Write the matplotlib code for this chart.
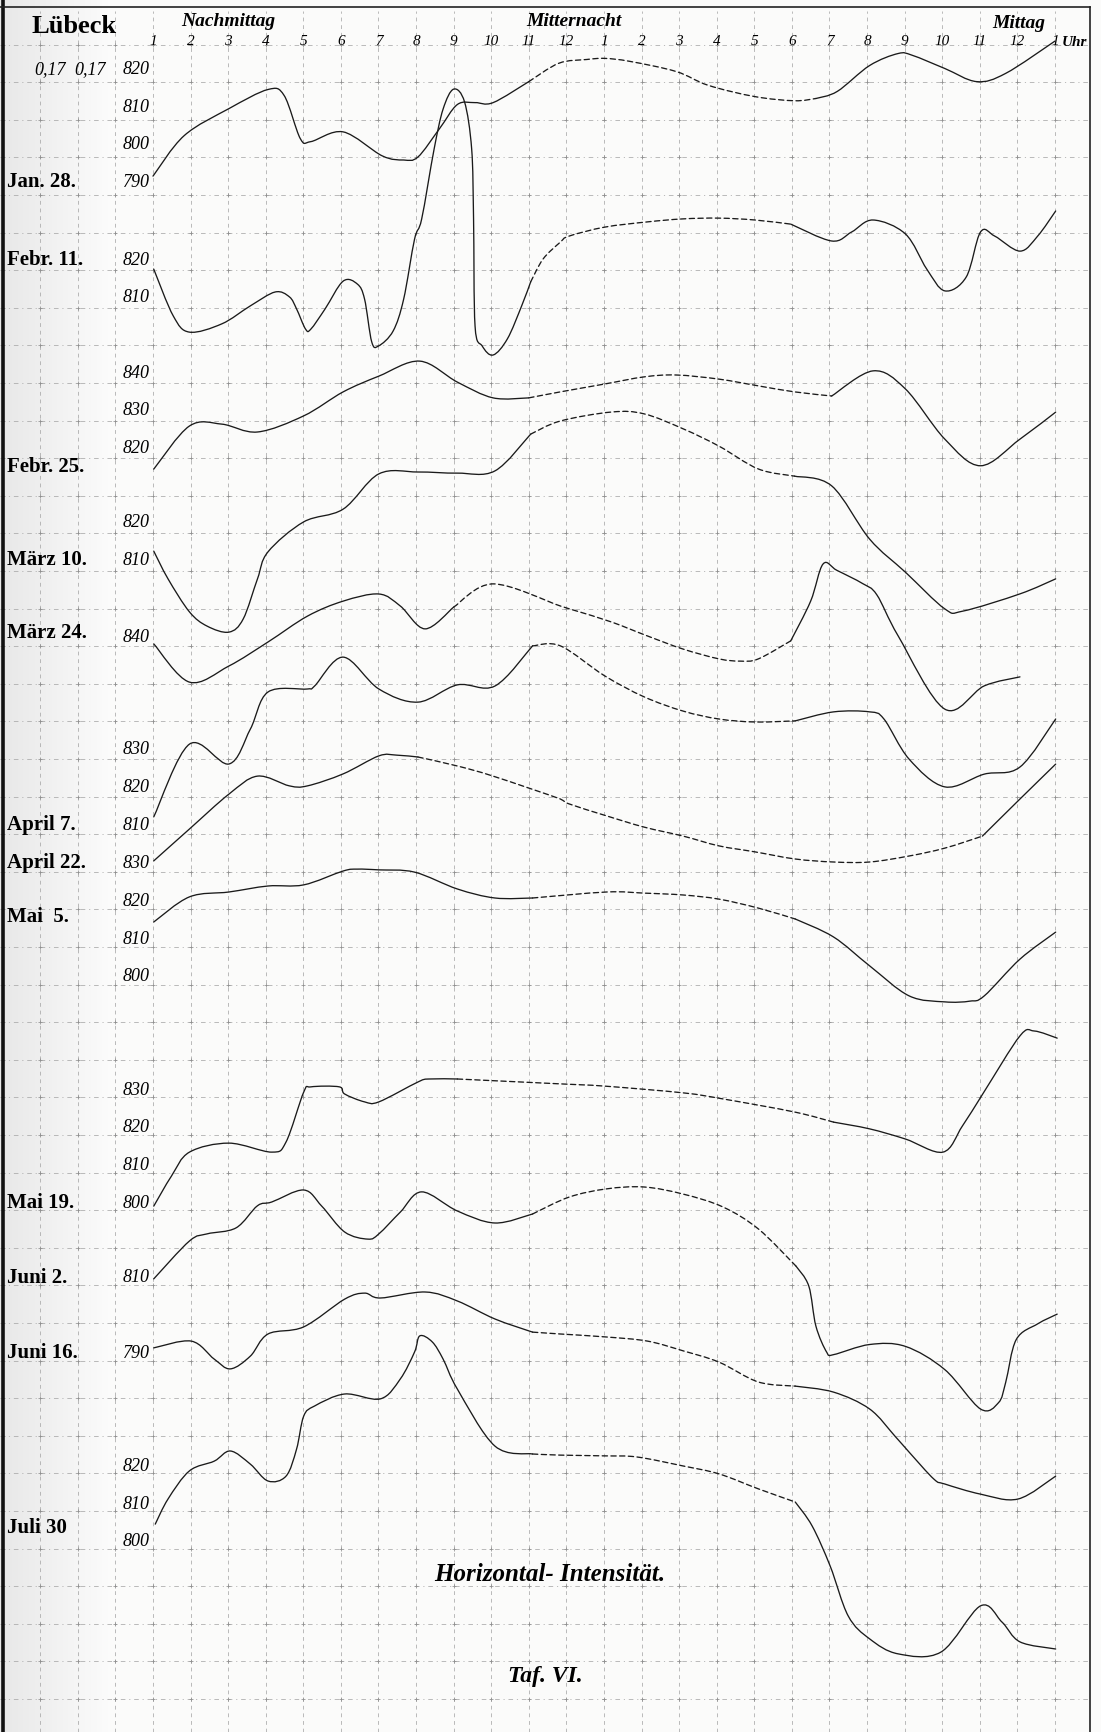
import numpy as np
import matplotlib.pyplot as plt
from matplotlib.path import Path
from matplotlib.patches import PathPatch

plt.rcParams['font.family'] = ['Liberation Serif', 'DejaVu Serif']

# --- data: hours counted from 1 Uhr nachmittags (0) to 1 Uhr mittags (24) ---
hour_labels = [str(i) for i in range(1, 13)] + [str(i) for i in range(1, 13)] + ['1']

dates = ['Jan. 28.', 'Febr. 11.', 'Febr. 25.', 'März 10.', 'März 24.', 'April 7.',
         'April 22.', 'Mai  5.', 'Mai 19.', 'Juni 2.', 'Juni 16.', 'Juli 30']

h_jan28 = [0.0, 0.83, 2.02, 3.06, 3.49, 3.92, 4.2, 5.06, 6.1, 6.67, 7.05, 7.62, 8.1, 8.57,
           9.05, 10.0, 10.8, 11.54, 12.02, 12.69, 13.92, 14.78, 16.02, 17.07, 17.64, 18.21,
           19.07, 19.83, 20.21, 21.07, 21.92, 22.69, 24.0]
v_jan28 = [791.3, 802.1, 809.3, 814.4, 812.8, 801.3, 800.5, 803.1, 796.7, 795.6, 796.4, 803.9,
           810.4, 810.9, 810.9, 816.5, 821.4, 822.4, 822.7, 821.9, 819.2, 815.5, 812.5, 811.4,
           812.0, 813.9, 820.8, 824.0, 823.5, 820.0, 816.5, 818.7, 827.3]

h_feb11 = [0.02, 0.54, 0.97, 1.83, 2.59, 3.25, 3.63, 3.82, 4.06, 4.2, 4.58, 5.06, 5.44, 5.63,
           5.82, 6.0, 6.39, 6.67, 6.96, 7.15, 7.48, 7.72, 8.0, 8.29, 8.48, 8.53, 8.57, 8.76,
           9.05, 9.43, 9.81, 10.05, 10.38, 10.84, 11.07, 12.02, 13.16, 14.11, 15.06, 16.02,
           16.97, 18.06, 18.59, 19.16, 20.02, 20.59, 21.07, 21.64, 22.02, 22.4, 23.07, 23.54, 24.02]
v_feb11 = [817.3, 804.8, 800.5, 802.7, 807.5, 811.2, 809.9, 806.7, 801.3, 801.3, 806.7, 814.1,
           813.3, 809.3, 797.9, 796.8, 800.8, 809.3, 825.3, 830.7, 849.3, 860.0, 865.3, 861.9,
           849.3, 830.7, 802.1, 796.8, 794.4, 798.7, 807.5, 813.9, 820.0, 824.5, 826.1, 828.5,
           829.9, 830.7, 830.9, 830.4, 829.3, 824.8, 827.2, 830.4, 826.7, 817.3, 811.5, 815.2,
           827.2, 826.1, 822.1, 826.1, 832.8]

h_feb25 = [0.02, 0.97, 1.83, 2.78, 4.01, 5.06, 6.01, 7.1, 8.1, 9.05, 10.0, 10.84, 12.02, 13.07,
           13.92, 15.06, 16.11, 17.07, 18.06, 19.16, 20.02, 21.07, 22.02, 23.07, 24.02]
v_feb25 = [814.1, 825.6, 826.1, 824.0, 828.3, 834.7, 838.9, 842.9, 837.3, 833.1, 833.1, 834.7,
           836.8, 838.7, 839.2, 838.1, 836.3, 834.7, 833.6, 840.3, 835.5, 822.1, 815.0, 822.1, 829.3]

h_mar10 = [0.02, 0.4, 0.97, 1.44, 2.02, 2.4, 2.78, 3.06, 4.01, 5.06, 6.01, 7.05, 8.1, 9.1, 10.05,
           10.84, 12.21, 13.07, 14.11, 15.06, 16.11, 17.07, 18.06, 19.07, 20.02, 21.07, 21.55,
           23.07, 24.02]
v_mar10 = [812.1, 804.7, 795.9, 792.1, 790.5, 794.0, 804.7, 811.9, 819.9, 823.3, 832.7, 833.2,
           832.9, 833.5, 843.3, 846.8, 849.2, 848.7, 844.7, 840.1, 834.0, 832.1, 829.5, 815.3,
           806.5, 796.7, 796.1, 800.7, 804.7]

h_mar24 = [0.02, 0.97, 2.02, 3.06, 4.11, 5.06, 6.01, 6.58, 7.24, 8.0, 9.05, 10.84, 11.26, 12.21,
           13.16, 14.11, 15.06, 15.63, 16.11, 16.97, 17.5, 17.83, 18.2, 18.88, 19.26, 19.83,
           21.07, 22.12, 23.07]
v_mar24 = [837.9, 827.7, 832.0, 838.4, 845.3, 849.3, 851.2, 848.0, 841.9, 847.7, 853.9, 848.0,
           846.7, 843.7, 840.0, 836.5, 833.9, 833.3, 833.9, 838.7, 849.3, 859.2, 857.5, 854.0,
           851.0, 840.0, 820.5, 826.7, 829.1]

h_apr07 = [0.02, 0.97, 2.02, 2.59, 3.06, 4.11, 4.3, 5.06, 6.01, 7.05, 8.1, 9.1, 10.1, 10.84,
           12.02, 13.07, 14.11, 15.06, 16.02, 17.09, 18.11, 19.07, 19.45, 20.12, 21.07, 22.12,
           23.07, 24.02]
v_apr07 = [811.9, 831.3, 826.0, 835.3, 845.2, 846.0, 846.8, 854.5, 846.0, 842.5, 847.1, 846.8,
           857.5, 857.5, 849.5, 843.9, 840.1, 838.0, 837.2, 837.5, 839.9, 839.9, 838.0, 827.3,
           819.9, 823.3, 825.2, 838.0]

h_apr22 = [0.02, 0.97, 2.02, 2.78, 3.63, 4.11, 5.06, 6.01, 6.48, 7.05, 8.1, 9.05, 10.84, 11.07,
           12.07, 13.07, 14.11, 15.06, 16.02, 17.09, 18.11, 19.07, 20.12, 21.07, 22.07, 23.07, 24.02]
v_apr22 = [830.3, 838.8, 848.1, 852.9, 850.3, 850.3, 853.5, 858.3, 858.5, 858.0, 855.6, 852.9,
           846.8, 845.5, 842.3, 839.3, 836.9, 834.3, 832.7, 830.8, 830.0, 830.0, 831.6, 833.7,
           836.9, 846.8, 856.1]

h_mai05 = [0.02, 0.97, 2.02, 3.06, 4.01, 5.06, 5.44, 6.01, 6.96, 8.1, 9.1, 10.1, 12.07, 13.07,
           14.11, 15.06, 16.11, 17.09, 18.11, 19.07, 20.12, 21.07, 21.74, 22.12, 23.07, 24.02]
v_mai05 = [814.4, 821.1, 822.4, 824.0, 824.3, 828.0, 828.5, 828.3, 827.7, 823.2, 820.8, 820.8,
           822.4, 822.1, 821.6, 820.5, 818.1, 815.2, 810.4, 802.7, 794.7, 793.1, 793.3, 794.7,
           804.5, 811.7]

h_mai19 = [0.02, 0.49, 0.97, 2.02, 3.16, 3.54, 4.01, 4.2, 4.96, 5.1, 5.63, 6.01, 7.05, 7.34, 8.1,
           10.84, 12.02, 14.11, 15.16, 17.07, 18.11, 19.07, 20.02, 21.02, 21.54, 22.11, 23.07,
           23.45, 24.06]
v_mai19 = [798.9, 806.9, 813.3, 815.7, 813.3, 816.0, 829.3, 830.7, 830.7, 828.8, 826.7, 826.7,
           832.0, 832.8, 832.8, 831.5, 830.9, 829.1, 827.5, 824.0, 821.3, 819.5, 816.8, 813.3,
           820.3, 829.3, 844.3, 845.6, 843.7]

h_jun02 = [0.02, 0.97, 1.44, 2.21, 2.78, 3.16, 4.01, 4.49, 5.1, 5.72, 6.01, 6.58, 7.15, 8.1, 9.1,
           10.1, 11.07, 12.07, 13.07, 14.11, 15.16, 16.11, 17.11, 17.45, 17.64, 17.93, 18.11,
           19.07, 20.02, 21.07, 22.02, 22.5, 22.69, 22.97, 23.54, 24.06]
v_jun02 = [809.5, 819.6, 821.5, 823.1, 829.0, 830.0, 833.2, 828.9, 822.0, 820.1, 821.5, 827.3,
           832.7, 827.6, 824.4, 826.8, 831.3, 833.5, 834.0, 832.1, 828.7, 822.8, 812.9, 807.6,
           796.9, 789.9, 789.3, 792.0, 791.5, 785.3, 774.8, 776.5, 781.9, 793.3, 797.5, 800.1]

h_jun16 = [0.02, 1.02, 1.63, 2.06, 2.59, 3.06, 4.01, 5.1, 5.63, 6.05, 7.24, 8.1, 9.1, 10.1, 10.84,
           12.07, 13.16, 14.11, 15.06, 16.11, 17.09, 18.11, 19.07, 19.74, 20.12, 20.78, 21.07,
           22.02, 23.02, 24.02]
v_jun16 = [791.1, 792.9, 788.1, 785.5, 788.9, 794.8, 796.7, 804.1, 805.7, 804.4, 806.0, 803.6,
           798.8, 795.3, 794.8, 794.0, 792.9, 790.3, 787.3, 782.0, 780.9, 779.3, 774.8, 767.6,
           763.3, 756.1, 754.8, 752.1, 750.8, 756.9]

h_jul30 = [0.06, 0.4, 0.97, 1.63, 2.06, 2.59, 3.06, 3.54, 3.82, 4.01, 4.3, 5.1, 6.05, 6.58, 6.96,
           7.1, 7.43, 7.72, 8.1, 9.1, 10.1, 10.84, 12.02, 12.88, 14.11, 15.06, 16.11, 17.09,
           17.54, 18.02, 18.5, 19.07, 19.83, 20.97, 22.02, 22.59, 23.07, 24.02]
v_jul30 = [804.5, 811.2, 818.7, 821.3, 824.0, 820.5, 816.0, 817.3, 824.5, 833.3, 836.0, 839.2,
           837.9, 843.2, 850.4, 854.7, 853.1, 848.5, 840.5, 825.3, 823.2, 822.9, 822.7, 822.4,
           820.0, 817.9, 813.9, 810.4, 804.0, 793.3, 780.0, 773.9, 769.9, 770.4, 782.7, 778.4,
           773.1, 771.2]

# scale values written beside each curve
scale_labels = [[820, 810, 800, 790], [820, 810], [840, 830, 820], [820, 810], [840],
                [830, 820, 810], [830], [820, 810, 800], [830, 820, 810, 800], [810], [790],
                [820, 810, 800]]
ref_value = [790, 820, 840, 810, 840, 810, 830, 820, 800, 810, 790, 800]

# --- layout (pixels of the sheet) ---
W, H = 1101, 1733
X0, DX = 153.0, 37.58      # x of 1 Uhr nachm., px per hour
PX = 3.75                  # px per gamma
anchor_px = [182, 260, 373, 560, 637, 825, 863, 902, 1203, 1278, 1353, 1542]
date_dy = [0, 0, 94, 0, -4, 0, 0, 15, 0, 0, 0, -14]
night = [(10.0, 17.64), (10.05, 16.97), (10.0, 18.06), (10.05, 17.07), (8.0, 16.97),
         (10.1, 17.09), (7.05, 22.07), (10.1, 17.09), (8.1, 18.11), (10.1, 17.11),
         (10.1, 17.09), (10.1, 17.09)]

curves_h = [h_jan28, h_feb11, h_feb25, h_mar10, h_mar24, h_apr07, h_apr22, h_mai05,
            h_mai19, h_jun02, h_jun16, h_jul30]
curves_v = [v_jan28, v_feb11, v_feb25, v_mar10, v_mar24, v_apr07, v_apr22, v_mai05,
            v_mai19, v_jun02, v_jun16, v_jul30]


def hx(p):
    return (p - X0) / DX


def vy(p):
    return -p / PX


def smooth_path(x, y):
    # bezier through the read points (catmull-rom tangents), drawn as one path
    p = np.column_stack([x, y])
    n = len(p)
    verts, codes = [p[0]], [Path.MOVETO]
    for i in range(n - 1):
        a = p[i - 1] if i > 0 else p[i]
        d = p[i + 2] if i + 2 < n else p[i + 1]
        c1 = p[i] + (p[i + 1] - a) / 6.0
        c2 = p[i + 1] - (d - p[i]) / 6.0
        lo, hi = p[i, 0], p[i + 1, 0]
        c1[0] = np.clip(c1[0], lo, hi)
        c2[0] = np.clip(c2[0], lo, hi)
        verts += [c1, c2, p[i + 1]]
        codes += [Path.CURVE4] * 3
    return Path(verts, codes)


fig = plt.figure(figsize=(W / 100, H / 100), dpi=100)
fig.patch.set_facecolor('#fbfbfa')
ax = fig.add_axes([0, 0, 1, 1])
ax.set_axis_off()
ax.set_xlim(hx(0), hx(W))
ax.set_ylim(vy(H), 0)

# faint scan shading along the left edge
shade = np.linspace(0.91, 0.985, 60)[None, :] * np.ones((2, 1))
ax.imshow(np.dstack([shade] * 3), extent=(hx(0), hx(110), vy(H), 0), aspect='auto',
          interpolation='bilinear', zorder=0)

# grid of the sheet
grid_c = '#a8a8a8'
rows = vy(45.5 + 37.6 * np.arange(45))
cols = np.arange(-4, 25)
ax.hlines(rows, hx(0), hx(1090), colors=grid_c, lw=0.55, linestyles=[(0, (6, 5, 1.5, 5))],
          zorder=1)
ax.vlines(cols[1:], vy(H), vy(12), colors=grid_c, lw=0.55, linestyles=[(0, (5, 5))], zorder=1)
gx, gy = np.meshgrid(cols, rows)
ax.scatter(gx.ravel(), gy.ravel(), marker='+', s=12, c='#8f8f8f', linewidths=0.55, zorder=1)

# frame
ax.plot([hx(3), hx(3)], [0, vy(H)], color='#111', lw=2.6)
ax.plot([hx(0), hx(1090)], [vy(8), vy(8)], color='#222', lw=1.2)
ax.plot([hx(1090), hx(1090)], [vy(8), vy(H)], color='#222', lw=1.2)

# header
ax.text(hx(74), vy(26), 'Lübeck', ha='center', va='center', fontsize=19, fontweight='bold')
ax.text(2.0, vy(21), 'Nachmittag', ha='center', va='center', fontsize=14, style='italic',
        fontweight='bold')
ax.text(11.2, vy(21), 'Mitternacht', ha='center', va='center', fontsize=14, style='italic',
        fontweight='bold')
ax.text(23.05, vy(23), 'Mittag', ha='center', va='center', fontsize=14, style='italic',
        fontweight='bold')
for i, lab in enumerate(hour_labels):
    ax.text(i, vy(41), lab, ha='center', va='center', fontsize=11, style='italic')
ax.text(24.18, vy(42), 'Uhr', ha='left', va='center', fontsize=11, style='italic',
        fontweight='bold')

# curves with scales and dates
for k in range(len(dates)):
    hrs = np.array(curves_h[k])
    ys = np.array(curves_v[k]) - ref_value[k] + vy(anchor_px[k])
    d0, d1 = night[k]
    for mask, ls in [(hrs <= d0, '-'), ((hrs >= d0) & (hrs <= d1), (0, (4, 2.6))),
                     (hrs >= d1, '-')]:
        ax.add_patch(PathPatch(smooth_path(hrs[mask], ys[mask]), fill=False,
                               edgecolor='#1a1a1a', lw=0.95, ls=ls, capstyle='round',
                               joinstyle='round', zorder=3))
    for val in scale_labels[k]:
        ax.text(hx(150), val - ref_value[k] + vy(anchor_px[k]), str(val), ha='right',
                va='center', fontsize=13, style='italic')
    ax.text(hx(7), vy(anchor_px[k] + date_dy[k]), dates[k], ha='left', va='center',
            fontsize=15, fontweight='bold')

ax.text(hx(50), vy(70), '0,17', ha='center', va='center', fontsize=13, style='italic')
ax.text(hx(90), vy(70), '0,17', ha='center', va='center', fontsize=13, style='italic')

ax.text(hx(550), vy(1575), 'Horizontal- Intensität.', ha='center', va='center',
        fontsize=18, style='italic', fontweight='bold')
ax.text(hx(545), vy(1677), 'Taf. VI.', ha='center', va='center', fontsize=17,
        style='italic', fontweight='bold')

fig.savefig('out.png', dpi=100, facecolor=fig.get_facecolor())
